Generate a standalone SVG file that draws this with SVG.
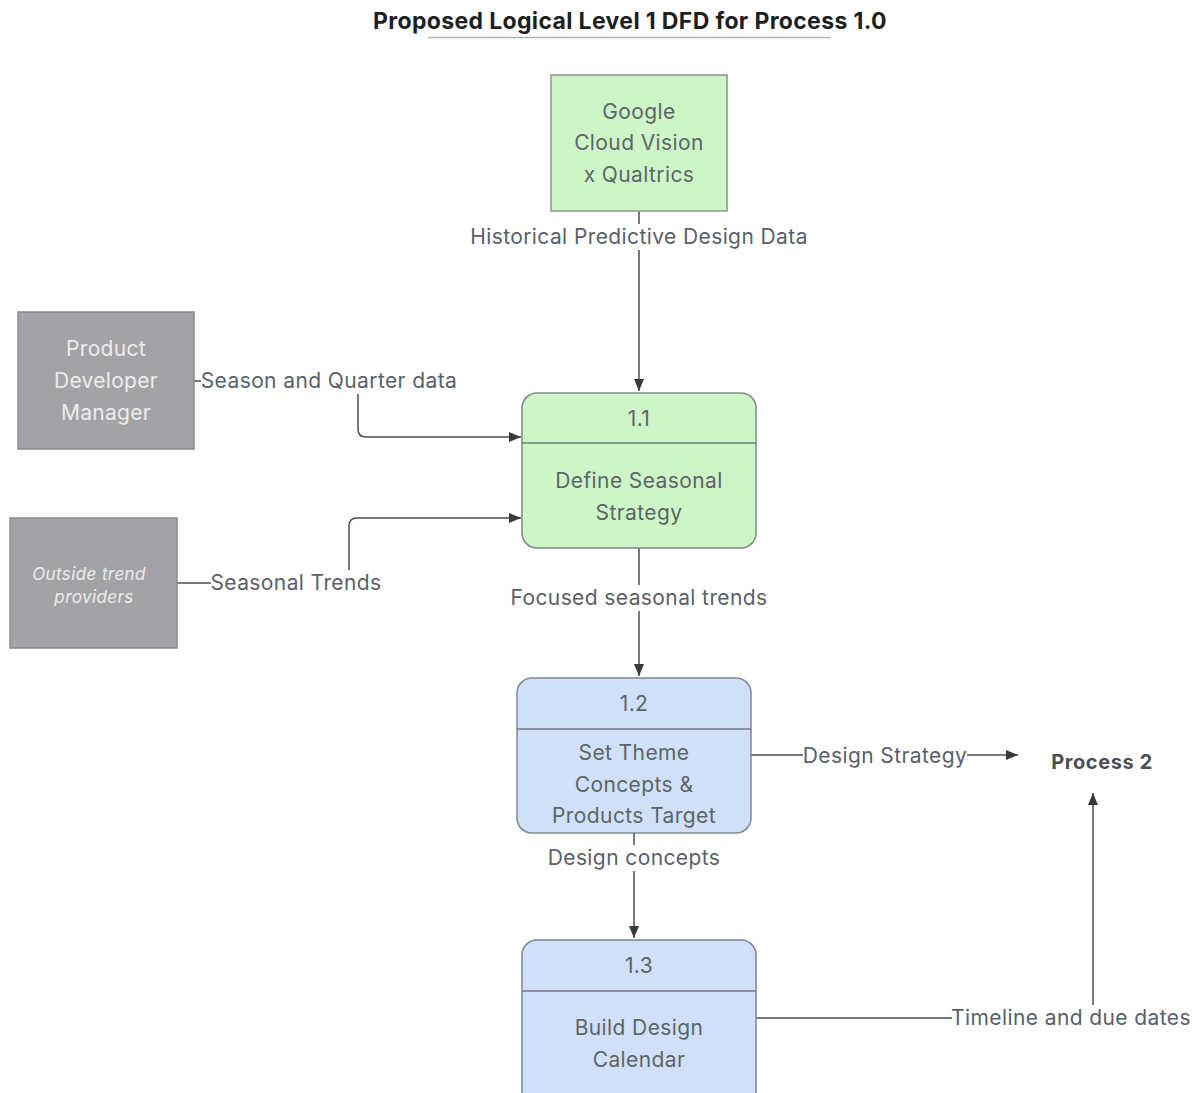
<svg xmlns="http://www.w3.org/2000/svg" width="1199" height="1093" viewBox="0 0 1199 1093">
  <defs>
    <marker id="arrow" viewBox="0 0 12 10" refX="12" refY="5" markerWidth="12" markerHeight="10" markerUnits="userSpaceOnUse" orient="auto">
      <path d="M0,0 L12,5 L0,10 Z" fill="#343a40"/>
    </marker>
    <style>
      text { font-family: Inter, "Liberation Sans", Arial, sans-serif; }
      .title { font-size: 23px; font-weight: 700; fill: #1f1f1f; letter-spacing: 0.35px; }
      .ext { fill: #a3a3a7; stroke: #8a8a8e; stroke-width: 1.5; }
      .extTxt { font-size: 21px; fill: #ececec; text-anchor: middle; letter-spacing: 0.3px; }
      .extIt { font-size: 17px; font-style: italic; fill: #ececec; text-anchor: middle; letter-spacing: 0.4px; }
      .src { fill: #cdf5c7; stroke: #8f9490; stroke-width: 1.5; }
      .green { fill: #cdf5c7; stroke: #7f8a84; stroke-width: 1.5; }
      .blue { fill: #cfe0f8; stroke: #7f8894; stroke-width: 1.5; }
      .div { stroke: #6f7780; stroke-width: 1.5; }
      .nodeTxt { font-size: 21px; fill: #5d6568; text-anchor: middle; letter-spacing: 0.4px; }
      .flow { fill: none; stroke: #4a4f55; stroke-width: 1.5; }
      .lbl { font-size: 21px; fill: #5a6068; text-anchor: middle; letter-spacing: 0.4px; }
      .lblBg { fill: #ffffff; }
    </style>
  </defs>

  <rect width="1199" height="1093" fill="#ffffff"/>

  <!-- heading -->
  <text class="title" x="630" y="29" text-anchor="middle">Proposed Logical Level 1 DFD for Process 1.0</text>
  <line x1="428" y1="37.5" x2="830" y2="37.5" stroke="#a9b1ba" stroke-width="1.5"/>

  <!-- data flows -->
  <g id="connectors">
    <path class="flow" d="M639,211 V391" marker-end="url(#arrow)"/>
    <path class="flow" d="M194,381 H358 V429 Q358,437 366,437 H521" marker-end="url(#arrow)"/>
    <path class="flow" d="M177,583 H349 V526 Q349,518 357,518 H521" marker-end="url(#arrow)"/>
    <path class="flow" d="M639,548 V676" marker-end="url(#arrow)"/>
    <path class="flow" d="M634,833 V938" marker-end="url(#arrow)"/>
    <path class="flow" d="M751,755 H1018" marker-end="url(#arrow)"/>
    <path class="flow" d="M756,1018 H1093 V793" marker-end="url(#arrow)"/>

    <!-- flow labels -->
    <rect class="lblBg" x="471" y="224" width="336" height="26"/>
    <text class="lbl" x="639" y="244">Historical Predictive Design Data</text>

    <rect class="lblBg" x="201" y="368" width="257" height="26"/>
    <text class="lbl" x="329" y="388">Season and Quarter data</text>

    <rect class="lblBg" x="211" y="570" width="171" height="26"/>
    <text class="lbl" x="296" y="590">Seasonal Trends</text>

    <rect class="lblBg" x="510" y="585" width="258" height="26"/>
    <text class="lbl" x="639" y="605">Focused seasonal trends</text>

    <rect class="lblBg" x="547" y="845" width="174" height="26"/>
    <text class="lbl" x="634" y="865">Design concepts</text>

    <rect class="lblBg" x="803" y="743" width="164" height="26"/>
    <text class="lbl" x="885" y="763">Design Strategy</text>

    <rect class="lblBg" x="952" y="1005" width="240" height="26"/>
    <text class="lbl" x="1071" y="1025">Timeline and due dates</text>
  </g>

  <!-- external entities -->
  <g id="google-cloud-vision">
    <rect class="src" x="551" y="75" width="176" height="136"/>
    <text class="nodeTxt" x="639" y="119">Google</text>
    <text class="nodeTxt" x="639" y="150">Cloud Vision</text>
    <text class="nodeTxt" x="639" y="182">x Qualtrics</text>
  </g>

  <g id="product-developer-manager">
    <rect class="ext" x="18" y="312" width="176" height="137"/>
    <text class="extTxt" x="106" y="356">Product</text>
    <text class="extTxt" x="106" y="388">Developer</text>
    <text class="extTxt" x="106" y="420">Manager</text>
  </g>

  <g id="outside-trend-providers">
    <rect class="ext" x="10" y="518" width="167" height="130"/>
    <text class="extIt" x="89" y="580">Outside trend</text>
    <text class="extIt" x="94" y="603">providers</text>
  </g>

  <!-- processes -->
  <g id="process-1-1">
    <rect class="green" x="522" y="393" width="234" height="155" rx="15"/>
    <line class="div" x1="522" y1="443" x2="756" y2="443"/>
    <text class="nodeTxt" x="639" y="426">1.1</text>
    <text class="nodeTxt" x="639" y="488">Define Seasonal</text>
    <text class="nodeTxt" x="639" y="520">Strategy</text>
  </g>

  <g id="process-1-2">
    <rect class="blue" x="517" y="678" width="234" height="155" rx="15"/>
    <line class="div" x1="517" y1="729" x2="751" y2="729"/>
    <text class="nodeTxt" x="634" y="711">1.2</text>
    <text class="nodeTxt" x="634" y="760">Set Theme</text>
    <text class="nodeTxt" x="634" y="792">Concepts &amp;</text>
    <text class="nodeTxt" x="634" y="823">Products Target</text>
  </g>

  <g id="process-1-3">
    <rect class="blue" x="522" y="940" width="234" height="170" rx="15"/>
    <line class="div" x1="522" y1="991" x2="756" y2="991"/>
    <text class="nodeTxt" x="639" y="973">1.3</text>
    <text class="nodeTxt" x="639" y="1035">Build Design</text>
    <text class="nodeTxt" x="639" y="1067">Calendar</text>
  </g>

  <g id="process-2">
    <text x="1102" y="769" text-anchor="middle" style="font-size:20px;font-weight:700;fill:#4a4f55;letter-spacing:0.6px">Process 2</text>
  </g>
</svg>
